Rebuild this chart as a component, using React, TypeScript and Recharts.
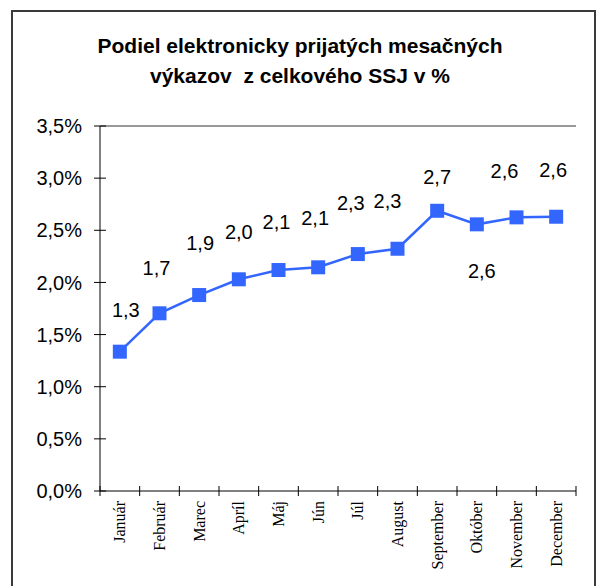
import React from 'react';
import { LineChart, Line, XAxis, YAxis, ReferenceLine, LabelList } from 'recharts';

const months = ['Január', 'Február', 'Marec', 'Apríl', 'Máj', 'Jún', 'Júl', 'August', 'September', 'Október', 'November', 'December'];
const shares = [1.336, 1.704, 1.879, 2.03, 2.119, 2.145, 2.272, 2.323, 2.687, 2.557, 2.624, 2.63];
const yTicks = [0, 0.5, 1, 1.5, 2, 2.5, 3, 3.5];
const titleLines = ['Podiel elektronicky prijatých mesačných', 'výkazov  z celkového SSJ v %'];

// manual data-label placement (offset of each label from its point, px)
const labelDx = [6, -3, 1, 0, -2, -3, -7, -10, 0, 5, -12, -3];
const labelDy = [-42, -45, -52, -48, -48, -50, -51, -48, -34, 46, -47, -47];

const data = months.map((m, i) => ({ month: m, share: shares[i] }));

const BLUE = '#3366FF';
const SANS = '"Liberation Sans", Arial, sans-serif';
const SERIF = '"Liberation Serif", "Times New Roman", serif';
const PLOT_W = 476;
const HB = PLOT_W / months.length / 2;

const fmtPct = (v: number) => v.toFixed(1).replace('.', ',') + '%';
const fmtVal = (v: number) => v.toFixed(1).replace('.', ',');

const YTick = (props: any) => {
  const { x, y, payload } = props;
  return (
    <g>
      <line x1={x - 6} x2={x + 6} y1={y} y2={y} stroke="#000" strokeWidth={1} />
      <text x={x - 18} y={y} dy="0.36em" textAnchor="end" fontSize={20} fontFamily={SANS} fill="#000">
        {fmtPct(payload.value)}
      </text>
    </g>
  );
};

const XTick = (props: any) => {
  const { x, y, payload, index } = props;
  return (
    <g>
      <line x1={x - HB} x2={x - HB} y1={y - 5} y2={y + 5} stroke="#000" strokeWidth={1} />
      {index === months.length - 1 && (
        <line x1={x + HB} x2={x + HB} y1={y - 5} y2={y + 5} stroke="#000" strokeWidth={1} />
      )}
      <text
        transform={`translate(${x},${y + 10}) rotate(-90)`}
        dy="0.35em"
        textAnchor="end"
        fontSize={16}
        fontFamily={SERIF}
        fill="#000"
      >
        {payload.value}
      </text>
    </g>
  );
};

const renderDot = (props: any) => {
  const { cx, cy, index } = props;
  return <rect key={`d${index}`} x={cx - 7} y={cy - 7} width={14} height={14} fill={BLUE} />;
};

const renderLabel = (props: any) => {
  const { index, value } = props;
  const vx = props.viewBox && props.viewBox.x != null ? props.viewBox.x : props.x;
  const vy = props.viewBox && props.viewBox.y != null ? props.viewBox.y : props.y;
  return (
    <text
      key={`l${index}`}
      x={vx + labelDx[index]}
      y={vy + labelDy[index]}
      dy="0.36em"
      textAnchor="middle"
      fontSize={20}
      fontFamily={SANS}
      fill="#000"
    >
      {fmtVal(Number(value))}
    </text>
  );
};

export default function App() {
  return (
    <div style={{ position: 'absolute', left: 0, top: 0, width: 600, height: 586, overflow: 'hidden', background: '#fff' }}>
      <div
        style={{
          position: 'absolute',
          left: 11,
          top: 10,
          width: 585,
          height: 620,
          border: '2px solid #3a3a3a',
          boxSizing: 'border-box',
        }}
      />
      <div
        style={{
          position: 'absolute',
          left: 0,
          top: 31,
          width: 600,
          textAlign: 'center',
          fontFamily: SANS,
          fontWeight: 'bold',
          fontSize: 21,
          lineHeight: '30px',
          color: '#000',
          whiteSpace: 'pre',
        }}
      >
        {titleLines.map((t, i) => (
          <div key={i}>{t}</div>
        ))}
      </div>
      <div style={{ position: 'absolute', left: 0, top: 0 }}>
        <LineChart width={600} height={586} data={data} margin={{ top: 126, right: 24, bottom: 15, left: 12 }}>
          <XAxis
            dataKey="month"
            height={80}
            interval={0}
            padding={{ left: HB, right: HB }}
            tickSize={0}
            tickMargin={0}
            tickLine={false}
            axisLine={{ stroke: '#000', strokeWidth: 1 }}
            tick={<XTick />}
          />
          <YAxis
            width={88}
            domain={[0, 3.5]}
            ticks={yTicks}
            interval={0}
            tickSize={0}
            tickMargin={0}
            tickLine={false}
            axisLine={{ stroke: '#000', strokeWidth: 1 }}
            tick={<YTick />}
          />
          <YAxis
            yAxisId="frame"
            orientation="right"
            width={0}
            domain={[0, 3.5]}
            ticks={yTicks}
            tick={false}
            tickLine={false}
            axisLine={{ stroke: '#333', strokeWidth: 1 }}
          />
          <ReferenceLine y={3.5} stroke="#333" strokeWidth={1} />
          <Line
            type="linear"
            dataKey="share"
            stroke={BLUE}
            strokeWidth={2.5}
            dot={renderDot}
            activeDot={false}
            isAnimationActive={false}
          >
            <LabelList dataKey="share" content={renderLabel} />
          </Line>
        </LineChart>
      </div>
    </div>
  );
}
